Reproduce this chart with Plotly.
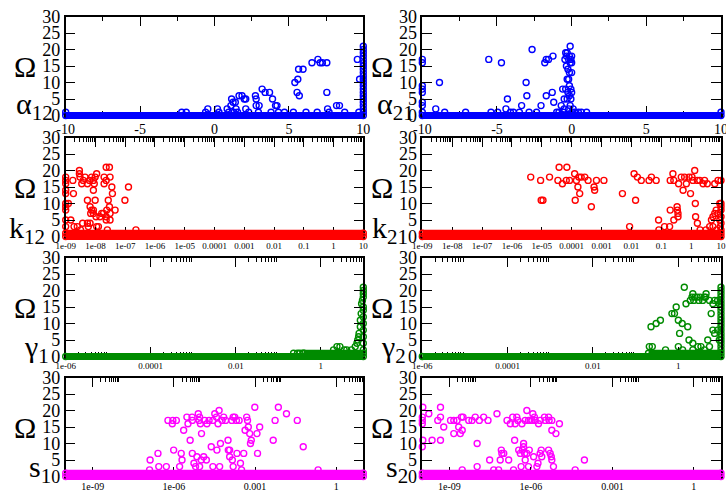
import plotly.graph_objects as go

W, H = 726, 490
BLUE, RED, GREEN, MAGENTA = '#0000ff', '#ff0000', '#008b00', '#ff00ff'
SERIF = 'Liberation Serif'

# ====================== data ======================
# (parameter value, Omega) pairs; linear parameters
alpha12_pts = [(-10, 1), (-2.2, 1), (-1.9, 1), (-0.6, 1), (-0.45, 2), (0.2, 2), (0.3, 1), (0.85, 2),
               (0.95, 1), (1.1, 3), (1.15, 5), (1.25, 4), (1.4, 4), (1.3, 1), (1.45, 2), (1.55, 1),
               (1.65, 6), (1.85, 6), (2.0, 5), (2.1, 5), (2.1, 2), (2.3, 1), (2.75, 6), (2.8, 5),
               (2.8, 3), (3.0, 3), (2.95, 1), (3.2, 8), (3.4, 7), (3.7, 7), (3.8, 1), (3.9, 5),
               (4.1, 3), (4.2, 3), (4.3, 1), (4.7, 1), (5.3, 1), (5.4, 10), (5.6, 11), (5.55, 7),
               (5.7, 6), (5.65, 14), (5.95, 14), (6.15, 1), (6.55, 16), (6.9, 1), (6.95, 17),
               (7.1, 16), (7.25, 16), (7.55, 16), (7.55, 7), (7.6, 2), (7.7, 1), (8.2, 3), (8.4, 3),
               (8.75, 1), (9.6, 17), (9.75, 11), (9.7, 1)]
alpha12_at_max = [1, 2, 3, 4, 5, 6, 7, 8, 9, 10, 11, 12, 13, 14, 15, 16, 17, 18, 19, 20, 21]  # alpha12 = 10

alpha21_pts = [(-10, 17), (-10, 16), (-10, 9), (-10, 8), (-10, 7), (-10, 4), (-10, 3), (-10, 1),
               (-9.1, 2), (-8.85, 10), (-8.5, 1), (-7.1, 1), (-5.55, 17), (-5.4, 1), (-4.95, 1),
               (-4.7, 16), (-4.4, 2), (-4.1, 1), (-3.9, 1), (-4.3, 5), (-3.5, 1), (-3.35, 3),
               (-3.05, 10), (-3.0, 6), (-2.85, 1), (-2.65, 20), (-2.35, 1), (-2.05, 3), (-1.8, 16),
               (-1.7, 17), (-1.55, 17), (-1.7, 6), (-1.3, 7), (-1.25, 18), (-1.2, 4), (-1.0, 1),
               (-0.85, 1), (-0.7, 3), (-0.6, 8), (-0.55, 1), (-0.5, 5), (-0.5, 2), (-0.45, 17),
               (-0.4, 19), (-0.4, 8), (-0.35, 18), (-0.35, 15), (-0.3, 19), (-0.3, 11), (-0.3, 5),
               (-0.25, 14), (-0.25, 7), (-0.2, 17), (-0.2, 11), (-0.2, 2), (-0.15, 13), (-0.15, 18),
               (-0.15, 9), (-0.15, 6), (-0.1, 16), (-0.1, 21), (-0.1, 3), (-0.05, 17), (-0.05, 8),
               (-0.05, 5), (0.0, 18), (0.0, 16), (0.0, 13), (0.0, 7), (0.0, 1), (0.1, 2), (0.2, 1),
               (0.45, 1), (0.65, 1), (1.0, 1), (10, 1)]

# (log10 of parameter, Omega) pairs; log-scaled parameters
k12_pts_log = [(-9.0, 18), (-9.0, 17), (-9.0, 16), (-9.0, 14), (-9.0, 13), (-9.0, 10), (-9.0, 9),
               (-9.0, 8), (-9.0, 5), (-9.0, 3), (-8.91, 10), (-8.83, 5), (-8.76, 17), (-8.74, 13),
               (-8.72, 3), (-8.61, 3), (-8.54, 20), (-8.54, 19), (-8.52, 18), (-8.46, 16), (-8.5, 2),
               (-8.43, 4), (-8.41, 17), (-8.35, 18), (-8.27, 16), (-8.27, 11), (-8.27, 4), (-8.2, 17),
               (-8.24, 3), (-8.18, 4), (-8.18, 9), (-8.16, 7), (-8.13, 18), (-8.13, 8), (-8.07, 17),
               (-8.07, 14), (-8.07, 8), (-8.07, 7), (-8.04, 16), (-8.01, 11), (-8.01, 18), (-7.98, 6),
               (-7.96, 19), (-7.96, 3), (-7.9, 3), (-7.85, 6), (-7.79, 7), (-7.73, 7), (-7.71, 16),
               (-7.71, 18), (-7.64, 21), (-7.64, 17), (-7.64, 6), (-7.64, 5), (-7.62, 8), (-7.6, 2),
               (-7.57, 11), (-7.53, 21), (-7.53, 9), (-7.51, 18), (-7.51, 7), (-7.51, 5), (-7.45, 15),
               (-7.43, 13), (-7.34, 8), (-7.01, 11), (-6.89, 15), (-6.64, 2)]

k21_pts_log = [(-5.37, 18), (-5.04, 17), (-5.02, 11), (-4.96, 11), (-4.74, 18), (-4.42, 21), (-4.46, 17),
               (-4.31, 16), (-4.18, 17), (-4.16, 21), (-4.07, 17), (-3.9, 19), (-3.88, 11), (-3.84, 17),
               (-3.79, 15), (-3.73, 13), (-3.76, 18), (-3.68, 18), (-3.56, 18), (-3.45, 17), (-3.34, 9),
               (-3.25, 15), (-3.23, 14), (-3.17, 17), (-2.92, 17), (-2.3, 13), (-2.06, 3), (-1.91, 19),
               (-1.86, 11), (-1.8, 18), (-1.67, 17), (-1.41, 17), (-1.33, 18), (-1.17, 17), (-1.09, 5),
               (-1.08, 2), (-0.89, 3), (-0.72, 3), (-0.7, 17), (-0.7, 8), (-0.58, 17), (-0.61, 19),
               (-0.58, 5), (-0.47, 9), (-0.46, 8), (-0.44, 7), (-0.44, 6), (-0.42, 16), (-0.33, 18),
               (-0.27, 14), (-0.22, 18), (-0.16, 16), (-0.07, 18), (-0.02, 13), (0.03, 18), (0.06, 17),
               (0.12, 20), (0.14, 10), (0.15, 6), (0.21, 4), (0.21, 17), (0.29, 17), (0.4, 16),
               (0.45, 17), (0.54, 16), (0.62, 3), (0.68, 5), (0.73, 6), (0.73, 3), (0.79, 7),
               (0.79, 16), (0.84, 8), (0.9, 7), (0.9, 17), (0.96, 5), (0.96, 10), (0.98, 3), (1.0, 17),
               (1.0, 10), (1.0, 9), (1.0, 8), (1.0, 6), (1.0, 4), (1.0, 2), (0.5, 2), (0.85, 2), (0.3, 2)]

gamma1_pts_log = [(-0.64, 1), (-0.55, 1), (-0.49, 1), (-0.42, 1), (0.3, 2), (0.38, 3), (0.45, 3),
                  (0.55, 2), (0.61, 2), (0.72, 2), (0.81, 3), (0.85, 4), (0.87, 5), (0.89, 6), (0.9, 7),
                  (0.93, 9), (0.93, 11), (0.95, 13), (0.96, 16), (0.98, 17), (1.0, 21), (1.0, 20),
                  (1.0, 19), (1.0, 18), (1.0, 15), (1.0, 14), (1.0, 12), (1.0, 10), (1.0, 8), (1.0, 6),
                  (1.0, 4), (1.0, 2)]

gamma2_pts_log = [(-0.68, 3), (-0.61, 3), (-0.64, 9), (-0.52, 10), (-0.42, 11), (-0.15, 13), (-0.09, 13),
                  (-0.05, 15), (0.0, 11), (0.03, 7), (0.09, 10), (0.14, 21), (0.18, 16), (0.25, 5),
                  (0.22, 9), (0.28, 17), (0.32, 18), (0.34, 19), (0.36, 17), (0.39, 18), (0.34, 4),
                  (0.34, 2), (0.44, 18), (0.46, 3), (0.48, 17), (0.51, 18), (0.53, 3), (0.57, 17),
                  (0.61, 18), (0.61, 2), (0.64, 18), (0.65, 19), (0.69, 5), (0.73, 17), (0.73, 3),
                  (0.77, 13), (0.81, 8), (0.81, 16), (0.85, 17), (0.85, 7), (0.92, 17), (0.92, 8),
                  (0.96, 16), (0.96, 5), (0.0, 3), (0.1, 2), (-0.3, 2)]
gamma2_at_max = [2, 3, 4, 5, 6, 7, 8, 9, 10, 11, 12, 13, 14, 15, 16, 17, 18, 19, 20, 21]  # gamma2 = 10

s1_pts_log = [(-6.88, 5), (-6.59, 7), (-6.56, 3), (-6.22, 17), (-6.06, 16), (-6.04, 17), (-5.91, 17),
              (-6.01, 8), (-5.73, 7), (-5.7, 5), (-5.79, 3), (-5.64, 14), (-5.52, 18), (-5.48, 16),
              (-5.4, 11), (-5.33, 18), (-5.32, 17), (-5.32, 7), (-5.26, 4), (-5.2, 3), (-5.15, 6),
              (-5.1, 19), (-5.07, 17), (-5.05, 18), (-5.02, 16), (-4.98, 13), (-4.99, 5), (-4.9, 6),
              (-4.86, 17), (-4.8, 5), (-4.78, 16), (-4.7, 17), (-4.62, 9), (-4.56, 17), (-4.49, 19),
              (-4.43, 18), (-4.41, 8), (-4.37, 16), (-4.33, 20), (-4.28, 10), (-4.22, 17), (-4.16, 18),
              (-4.09, 17), (-4.0, 11), (-3.99, 8), (-3.94, 8), (-3.94, 6), (-3.86, 17), (-3.84, 5),
              (-3.81, 18), (-3.75, 18), (-3.69, 17), (-3.67, 7), (-3.59, 17), (-3.54, 4), (-3.42, 7),
              (-3.37, 14), (-3.31, 18), (-3.28, 17), (-3.25, 15), (-3.2, 13), (-3.17, 10), (-3.14, 11),
              (-3.01, 21), (-2.93, 13), (-2.91, 7), (-2.83, 15), (-2.33, 11), (-2.26, 17), (-2.14, 21),
              (-1.84, 19), (-1.44, 17), (-1.22, 9), (-0.67, 2), (-6.9, 2), (-6.28, 3), (-5.05, 3),
              (-4.56, 3), (-4.31, 3), (-3.81, 3), (-3.5, 2)]

s2_pts_log = [(-9.98, 21), (-10.0, 18), (-10.0, 17), (-10.0, 16), (-9.98, 11), (-10.0, 9), (-9.76, 19),
              (-9.64, 11), (-9.43, 17), (-9.33, 18), (-9.33, 21), (-9.33, 11), (-9.21, 15), (-8.96, 17),
              (-8.84, 17), (-8.84, 13), (-8.72, 17), (-8.66, 15), (-8.6, 13), (-8.56, 18), (-8.53, 14),
              (-8.5, 18), (-8.53, 2), (-8.29, 17), (-8.17, 17), (-8.05, 18), (-7.98, 10), (-7.98, 3),
              (-7.9, 17), (-7.74, 18), (-7.58, 17), (-7.52, 5), (-7.37, 2), (-7.25, 19), (-7.19, 2),
              (-7.13, 5), (-7.09, 8), (-7.07, 7), (-7.0, 7), (-6.88, 17), (-6.82, 5), (-6.76, 16),
              (-6.67, 18), (-6.64, 2), (-6.6, 11), (-6.58, 16), (-6.52, 18), (-6.48, 17), (-6.45, 8),
              (-6.39, 7), (-6.36, 3), (-6.33, 16), (-6.31, 8), (-6.27, 10), (-6.27, 9), (-6.23, 7),
              (-6.21, 17), (-6.21, 5), (-6.15, 20), (-6.15, 7), (-6.09, 3), (-6.09, 17), (-6.06, 8),
              (-6.03, 17), (-5.96, 17), (-5.93, 19), (-5.9, 6), (-5.87, 18), (-5.84, 17), (-5.78, 3),
              (-5.74, 4), (-5.72, 16), (-5.66, 7), (-5.62, 8), (-5.66, 17), (-5.6, 6), (-5.5, 18),
              (-5.47, 17), (-5.35, 18), (-5.35, 8), (-5.33, 17), (-5.29, 7), (-5.25, 6), (-5.23, 5),
              (-5.23, 14), (-5.17, 3), (-5.23, 17), (-5.08, 13), (-4.95, 16), (-4.37, 2), (-4.03, 5)]

# Extent (parameter values) of the dense rows of samples at Omega = 0 and Omega = 1
alpha12_band = {0: (-10, 10)}
alpha21_band = {0: (-10, 10)}
k12_band = {0: (1e-9, 10), 1: (1e-9, 10)}
k21_band = {0: (1e-9, 10), 1: (1e-9, 10)}
gamma1_band = {0: (1e-6, 10), 1: (0.4, 10)}
gamma2_band = {0: (1e-6, 10), 1: (0.2, 10)}
s1_band = {0: (1e-10, 10), 1: (1e-10, 10)}
s2_band = {0: (1e-10, 10), 1: (1e-10, 10)}

# ticks
omega_ticks = [0, 5, 10, 15, 20, 25, 30]
alpha_ticks = [-10, -5, 0, 5, 10]
alpha_ticktext = ['-10', '-5', '0', '5', '10']
alpha_minor = [-7.5, -2.5, 2.5, 7.5]
k_decades = [-9, -8, -7, -6, -5, -4, -3, -2, -1, 0, 1]
k_ticktext = ['1e-09', '1e-08', '1e-07', '1e-06', '1e-05', '0.0001', '0.001', '0.01', '0.1', '1', '10']
gamma_decades = [-6, -4, -2, 0]
gamma_ticktext = ['1e-06', '0.0001', '0.01', '1']
s_decades = [-9, -6, -3, 0]
s_ticktext = ['1e-09', '1e-06', '0.001', '1']

# ====================== layout geometry ======================
COL_X = [(65.7, 363.3), (422.3, 721.0)]
ROW_TOP = [16.5, 137.5, 257.5, 377.5]
ROW_H = 99.0


def logvals(decs):
    return [10.0 ** d for d in decs]


def minor_log(decs):
    return [m * 10.0 ** d for d in decs for m in range(2, 10)]


panels = [
    dict(col=0, row=0, color=BLUE, log=False, rng=(-10, 10), tv=alpha_ticks, tt=alpha_ticktext,
         minor=alpha_minor, fs=14, pts=alpha12_pts + [(10, o) for o in alpha12_at_max],
         band=alpha12_band, lab='α<sub>12</sub>', lx=14, ly=-4),
    dict(col=1, row=0, color=BLUE, log=False, rng=(-10, 10), tv=alpha_ticks, tt=alpha_ticktext,
         minor=alpha_minor, fs=14, pts=alpha21_pts, band=alpha21_band, lab='α<sub>21</sub>', lx=375, ly=-4),
    dict(col=0, row=1, color=RED, log=True, rng=(-9, 1), tv=logvals(k_decades), tt=k_ticktext,
         minor=minor_log(k_decades[:-1]), fs=9, pts=k12_pts_log, band=k12_band,
         lab='k<sub>12</sub>', lx=7, ly=-1),
    dict(col=1, row=1, color=RED, log=True, rng=(-9, 1), tv=logvals(k_decades), tt=k_ticktext,
         minor=minor_log(k_decades[:-1]), fs=9, pts=k21_pts_log, band=k21_band,
         lab='k<sub>21</sub>', lx=370, ly=-1),
    dict(col=0, row=2, color=GREEN, log=True, rng=(-6, 1), tv=logvals(gamma_decades), tt=gamma_ticktext,
         minor=minor_log(gamma_decades), fs=9, pts=gamma1_pts_log, band=gamma1_band,
         lab='γ<sub>1</sub>', lx=22, ly=-2),
    dict(col=1, row=2, color=GREEN, log=True, rng=(-6, 1), tv=logvals(gamma_decades), tt=gamma_ticktext,
         minor=minor_log(gamma_decades), fs=9, pts=gamma2_pts_log + [(1.0, o) for o in gamma2_at_max],
         band=gamma2_band, lab='γ<sub>2</sub>', lx=379, ly=-2),
    dict(col=0, row=3, color=MAGENTA, log=True, rng=(-10, 1), tv=logvals(s_decades), tt=s_ticktext,
         minor=minor_log(s_decades), fs=10, pts=s1_pts_log, band=s1_band,
         lab='s<sub>1</sub>', lx=27, ly=-2),
    dict(col=1, row=3, color=MAGENTA, log=True, rng=(-10, 1), tv=logvals(s_decades), tt=s_ticktext,
         minor=minor_log(s_decades), fs=10, pts=s2_pts_log, band=s2_band,
         lab='s<sub>2</sub>', lx=384, ly=-2),
]

fig = go.Figure()
layout = {}
annotations = []
N = len(panels)


def px_x(p):
    return min(1.0, max(0.0, p / W))


def px_y(p):
    return min(1.0, max(0.0, 1 - p / H))


for i, P in enumerate(panels, start=1):
    x0, x1 = COL_X[P['col']]
    top = ROW_TOP[P['row']]
    bot = top + ROW_H
    xs = [10.0 ** e if P['log'] else e for e, _ in P['pts']]
    ys = [o for _, o in P['pts']]
    ax = '' if i == 1 else str(i)
    fig.add_trace(go.Scatter(
        x=xs, y=ys, mode='markers', cliponaxis=False, hoverinfo='skip',
        marker=dict(symbol='circle-open', size=6, color=P['color'], line=dict(width=1.4, color=P['color'])),
        xaxis='x' + ax, yaxis='y' + ax))

    layout['xaxis' + ax] = dict(
        domain=[px_x(x0), px_x(x1)], anchor='y' + ax, type='log' if P['log'] else 'linear',
        range=list(P['rng']), showline=True, linecolor='black', linewidth=1.5, mirror='ticks',
        ticks='inside', ticklen=10, tickwidth=1.2, tickcolor='black',
        tickmode='array', tickvals=P['tv'], ticktext=P['tt'], ticklabeloverflow='allow',
        tickfont=dict(family=SERIF, size=P['fs'], color='black'),
        minor=dict(ticks='inside', ticklen=5, tickwidth=1.2, tickcolor='black',
                   tickmode='array', tickvals=P['minor']),
        showgrid=False, zeroline=False, fixedrange=True, automargin=False)
    layout['yaxis' + ax] = dict(
        domain=[px_y(bot), px_y(top)], anchor='x' + ax, range=[0, 30],
        showline=True, linecolor='black', linewidth=1.5, mirror='ticks',
        ticks='inside', ticklen=10, tickwidth=1.2, tickcolor='black',
        tickmode='array', tickvals=omega_ticks, ticklabeloverflow='allow',
        tickfont=dict(family=SERIF, size=18, color='black'),
        showgrid=False, zeroline=False, fixedrange=True, automargin=False)

    # band subplot: same scales, slightly larger area so the thick rows are not clipped
    j = i + N
    bx = str(j)
    ext_l = min(5.0, x0)
    ext_r = min(5.0, W - x1 - 0.01)
    ext_b = 6.0
    upx = (P['rng'][1] - P['rng'][0]) / (x1 - x0)
    layout['xaxis' + bx] = dict(domain=[px_x(x0 - ext_l), px_x(x1 + ext_r)], anchor='y' + bx,
                                type='log' if P['log'] else 'linear',
                                range=[P['rng'][0] - upx * ext_l, P['rng'][1] + upx * ext_r],
                                visible=False, fixedrange=True, automargin=False)
    layout['yaxis' + bx] = dict(domain=[px_y(bot + ext_b), px_y(top)], anchor='x' + bx,
                                range=[-30.0 / ROW_H * ext_b, 30], visible=False, fixedrange=True,
                                automargin=False)
    for level, (b0, b1) in P['band'].items():
        fig.add_trace(go.Scatter(
            x=[b0, b1], y=[level, level], mode='lines+markers', hoverinfo='skip', cliponaxis=False,
            line=dict(color=P['color'], width=7),
            marker=dict(symbol='circle-open', size=6, color=P['color'], line=dict(width=1.4, color=P['color'])),
            xaxis='x' + bx, yaxis='y' + bx))

    # labels
    ocx = 25 if P['col'] == 0 else 382
    annotations.append(dict(text='Ω', x=px_x(ocx), y=px_y(top + 50), xref='paper', yref='paper',
                            xanchor='center', yanchor='middle', showarrow=False,
                            font=dict(family=SERIF, size=30, color='black')))
    annotations.append(dict(text=P['lab'], x=P['lx'] / W, y=1 - (bot + 15 + P['ly']) / H,
                            xref='paper', yref='paper',
                            xanchor='left', yanchor='bottom', showarrow=False,
                            font=dict(family=SERIF, size=30, color='black')))

fig.update_layout(**layout)
fig.update_layout(template='none', width=W, height=H, margin=dict(l=0, r=0, t=0, b=0, pad=0),
                  showlegend=False, plot_bgcolor='rgba(0,0,0,0)', paper_bgcolor='white',
                  annotations=annotations)
fig.write_html('out.html')
